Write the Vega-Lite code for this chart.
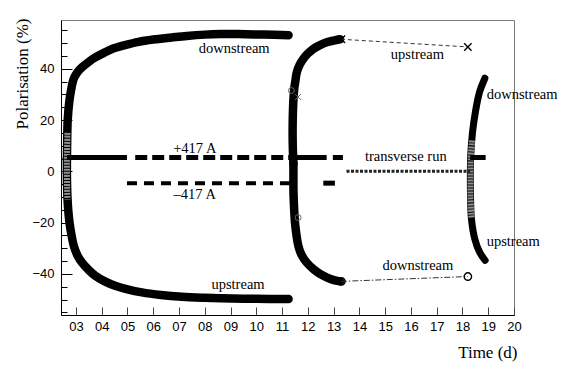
{
  "$schema": "https://vega.github.io/schema/vega-lite/v6.json",
  "width": 453,
  "height": 295,
  "autosize": {"type": "none"},
  "padding": {"left": 61, "top": 20, "right": 54, "bottom": 55},
  "background": "white",
  "config": {
    "view": {"stroke": "#7a7a7a", "strokeWidth": 1},
    "text": {"font": "Liberation Serif", "fontSize": 14.5, "color": "black"}
  },
  "datasets": {
    "curves": [
      {"s": "ds1", "i": 0, "x": 2.65, "y": 5},
      {"s": "ds1", "i": 1, "x": 2.66, "y": 12},
      {"s": "ds1", "i": 2, "x": 2.68, "y": 20},
      {"s": "ds1", "i": 3, "x": 2.74, "y": 27},
      {"s": "ds1", "i": 4, "x": 2.8, "y": 31},
      {"s": "ds1", "i": 5, "x": 2.91, "y": 36},
      {"s": "ds1", "i": 6, "x": 3.05, "y": 38.5},
      {"s": "ds1", "i": 7, "x": 3.23, "y": 40.5},
      {"s": "ds1", "i": 8, "x": 3.5, "y": 42.7},
      {"s": "ds1", "i": 9, "x": 3.75, "y": 44.4},
      {"s": "ds1", "i": 10, "x": 4.05, "y": 46},
      {"s": "ds1", "i": 11, "x": 4.4, "y": 47.7},
      {"s": "ds1", "i": 12, "x": 4.9, "y": 49.2},
      {"s": "ds1", "i": 13, "x": 5.43, "y": 50.5},
      {"s": "ds1", "i": 14, "x": 6.0, "y": 51.4},
      {"s": "ds1", "i": 15, "x": 6.72, "y": 52.2},
      {"s": "ds1", "i": 16, "x": 7.3, "y": 52.8},
      {"s": "ds1", "i": 17, "x": 8.01, "y": 53.3},
      {"s": "ds1", "i": 18, "x": 8.6, "y": 53.5},
      {"s": "ds1", "i": 19, "x": 9.3, "y": 53.5},
      {"s": "ds1", "i": 20, "x": 10.3, "y": 53.3},
      {"s": "ds1", "i": 21, "x": 11.25, "y": 53.1},
      {"s": "us1", "i": 0, "x": 2.65, "y": 5},
      {"s": "us1", "i": 1, "x": 2.65, "y": -3},
      {"s": "us1", "i": 2, "x": 2.67, "y": -10},
      {"s": "us1", "i": 3, "x": 2.7, "y": -15},
      {"s": "us1", "i": 4, "x": 2.75, "y": -20},
      {"s": "us1", "i": 5, "x": 2.83, "y": -25},
      {"s": "us1", "i": 6, "x": 2.93, "y": -29.5},
      {"s": "us1", "i": 7, "x": 3.07, "y": -33},
      {"s": "us1", "i": 8, "x": 3.23, "y": -35.5},
      {"s": "us1", "i": 9, "x": 3.5, "y": -38.5},
      {"s": "us1", "i": 10, "x": 3.75, "y": -40.7},
      {"s": "us1", "i": 11, "x": 4.1, "y": -42.8},
      {"s": "us1", "i": 12, "x": 4.52, "y": -44.6},
      {"s": "us1", "i": 13, "x": 5.0, "y": -46},
      {"s": "us1", "i": 14, "x": 5.56, "y": -47.2},
      {"s": "us1", "i": 15, "x": 6.3, "y": -48.2},
      {"s": "us1", "i": 16, "x": 7.11, "y": -48.9},
      {"s": "us1", "i": 17, "x": 8.0, "y": -49.3},
      {"s": "us1", "i": 18, "x": 8.66, "y": -49.5},
      {"s": "us1", "i": 19, "x": 10.0, "y": -49.7},
      {"s": "us1", "i": 20, "x": 11.25, "y": -49.8},
      {"s": "ds2", "i": 0, "x": 11.44, "y": 3},
      {"s": "ds2", "i": 1, "x": 11.42, "y": 8},
      {"s": "ds2", "i": 2, "x": 11.41, "y": 12.6},
      {"s": "ds2", "i": 3, "x": 11.41, "y": 18},
      {"s": "ds2", "i": 4, "x": 11.42, "y": 23},
      {"s": "ds2", "i": 5, "x": 11.44, "y": 28},
      {"s": "ds2", "i": 6, "x": 11.47, "y": 32},
      {"s": "ds2", "i": 7, "x": 11.52, "y": 35.5},
      {"s": "ds2", "i": 8, "x": 11.57, "y": 38.6},
      {"s": "ds2", "i": 9, "x": 11.68, "y": 41.5},
      {"s": "ds2", "i": 10, "x": 11.82, "y": 43.8},
      {"s": "ds2", "i": 11, "x": 12.0, "y": 45.9},
      {"s": "ds2", "i": 12, "x": 12.21, "y": 47.7},
      {"s": "ds2", "i": 13, "x": 12.45, "y": 49.1},
      {"s": "ds2", "i": 14, "x": 12.73, "y": 50.3},
      {"s": "ds2", "i": 15, "x": 13.0, "y": 51},
      {"s": "ds2", "i": 16, "x": 13.25, "y": 51.5},
      {"s": "us2", "i": 0, "x": 11.44, "y": 3},
      {"s": "us2", "i": 1, "x": 11.44, "y": -3},
      {"s": "us2", "i": 2, "x": 11.44, "y": -6.9},
      {"s": "us2", "i": 3, "x": 11.46, "y": -13},
      {"s": "us2", "i": 4, "x": 11.5, "y": -19.9},
      {"s": "us2", "i": 5, "x": 11.56, "y": -25},
      {"s": "us2", "i": 6, "x": 11.63, "y": -29},
      {"s": "us2", "i": 7, "x": 11.75, "y": -32.5},
      {"s": "us2", "i": 8, "x": 11.95, "y": -35.5},
      {"s": "us2", "i": 9, "x": 12.2, "y": -38},
      {"s": "us2", "i": 10, "x": 12.47, "y": -40},
      {"s": "us2", "i": 11, "x": 12.75, "y": -41.4},
      {"s": "us2", "i": 12, "x": 12.98, "y": -42.3},
      {"s": "us2", "i": 13, "x": 13.25, "y": -42.9}
    ],
    "run3": [
      {"s": "r3", "i": 0, "x": 18.87, "y": 36.3},
      {"s": "r3", "i": 1, "x": 18.66, "y": 30.8},
      {"s": "r3", "i": 2, "x": 18.5, "y": 23},
      {"s": "r3", "i": 3, "x": 18.39, "y": 15.2},
      {"s": "r3", "i": 4, "x": 18.32, "y": 6.1},
      {"s": "r3", "i": 5, "x": 18.31, "y": 2.2},
      {"s": "r3", "i": 6, "x": 18.31, "y": -8.2},
      {"s": "r3", "i": 7, "x": 18.35, "y": -18.6},
      {"s": "r3", "i": 8, "x": 18.48, "y": -26.4},
      {"s": "r3", "i": 9, "x": 18.67, "y": -31.6},
      {"s": "r3", "i": 10, "x": 18.88, "y": -34.7}
    ],
    "grayseg": [
      {"s": "g1", "i": 0, "x": 2.67, "y": 15},
      {"s": "g1", "i": 1, "x": 2.655, "y": 8},
      {"s": "g1", "i": 2, "x": 2.65, "y": 2},
      {"s": "g1", "i": 3, "x": 2.655, "y": -6},
      {"s": "g1", "i": 4, "x": 2.67, "y": -11},
      {"s": "g3", "i": 0, "x": 18.37, "y": 12},
      {"s": "g3", "i": 1, "x": 18.32, "y": 5},
      {"s": "g3", "i": 2, "x": 18.31, "y": -3},
      {"s": "g3", "i": 3, "x": 18.31, "y": -10},
      {"s": "g3", "i": 4, "x": 18.35, "y": -18}
    ],
    "cur": [
      {"s": "p_solid1", "x": 2.65, "y": 5.4},
      {"s": "p_solid1", "x": 4.98, "y": 5.4},
      {"s": "p_dash", "x": 5.3, "y": 5.4},
      {"s": "p_dash", "x": 11.4, "y": 5.4},
      {"s": "p_solid2", "x": 11.45, "y": 5.4},
      {"s": "p_solid2", "x": 12.73, "y": 5.4},
      {"s": "p_seg", "x": 12.97, "y": 5.4},
      {"s": "p_seg", "x": 13.36, "y": 5.4},
      {"s": "p_solid3", "x": 18.3, "y": 5.4},
      {"s": "p_solid3", "x": 18.9, "y": 5.4},
      {"s": "m_dash", "x": 4.98, "y": -4.6},
      {"s": "m_dash", "x": 11.4, "y": -4.6},
      {"s": "m_seg", "x": 12.6, "y": -4.6},
      {"s": "m_seg", "x": 13.05, "y": -4.6}
    ],
    "trans": [
      {"x": 13.5, "y": 0},
      {"x": 18.3, "y": 0}
    ],
    "conn": [
      {"s": "up", "x": 13.28, "y": 51.5},
      {"s": "up", "x": 18.21, "y": 48.5},
      {"s": "dn", "x": 13.28, "y": -42.9},
      {"s": "dn", "x": 18.21, "y": -41}
    ],
    "marks": [
      {"m": "x", "x": 18.21, "y": 48.5},
      {"m": "x", "x": 13.3, "y": 51.5},
      {"m": "o", "x": 18.21, "y": -41},
      {"m": "o", "x": 13.3, "y": -42.9}
    ],
    "stray": [
      {"m": "o", "x": 11.36, "y": 31.5},
      {"m": "x", "x": 11.62, "y": 29},
      {"m": "o", "x": 11.62, "y": -18}
    ],
    "labels": [
      {"t": "downstream", "x": 9.14, "y": 47.7, "a": "c"},
      {"t": "+417 A", "x": 7.61, "y": 8.7, "a": "c"},
      {"t": "–417 A", "x": 7.61, "y": -9.2, "a": "c"},
      {"t": "upstream", "x": 9.29, "y": -44.3, "a": "c"},
      {"t": "upstream", "x": 16.25, "y": 45.3, "a": "c"},
      {"t": "transverse run", "x": 15.8, "y": 5.6, "a": "c"},
      {"t": "downstream", "x": 16.27, "y": -36.9, "a": "c"},
      {"t": "downstream", "x": 18.94, "y": 29.7, "a": "l"},
      {"t": "upstream", "x": 18.94, "y": -27.5, "a": "l"}
    ]
  },
  "encoding": {
    "x": {
      "field": "x",
      "type": "quantitative",
      "scale": {"domain": [2.42, 20], "nice": false, "zero": false},
      "axis": {
        "title": "Time (d)",
        "values": [3, 4, 5, 6, 7, 8, 9, 10, 11, 12, 13, 14, 15, 16, 17, 18, 19, 20],
        "labelExpr": "datum.value < 10 ? '0' + datum.value : '' + datum.value",
        "grid": false,
        "tickSize": -8,
        "labelPadding": 13,
        "labelFlush": false,
        "labelFont": "Liberation Sans",
        "labelFontSize": 13,
        "labelColor": "black",
        "tickColor": "#444",
        "domainColor": "black",
        "titleFont": "Liberation Serif",
        "titleFontSize": 17,
        "titleFontWeight": "normal",
        "titleColor": "black",
        "titleX": 456,
        "titleY": 37,
        "titleAlign": "right",
        "titleBaseline": "middle"
      }
    },
    "y": {
      "field": "y",
      "type": "quantitative",
      "scale": {"domain": [-56, 59], "nice": false, "zero": false},
      "axis": {
        "title": "Polarisation (%)",
        "values": [-55, -50, -45, -40, -35, -30, -25, -20, -15, -10, -5, 0, 5, 10, 15, 20, 25, 30, 35, 40, 45, 50, 55],
        "labelExpr": "datum.value % 20 === 0 ? datum.label : ''",
        "grid": false,
        "tickSize": {"condition": {"test": "datum.value % 20 === 0", "value": -11}, "value": -6},
        "labelPadding": 18,
        "labelFont": "Liberation Sans",
        "labelFontSize": 13,
        "labelColor": "black",
        "tickColor": "black",
        "domainColor": "black",
        "titleFont": "Liberation Serif",
        "titleFontSize": 17,
        "titleFontWeight": "normal",
        "titleColor": "black",
        "titleX": -39,
        "titleY": -2,
        "titleAngle": -90,
        "titleAlign": "right",
        "titleBaseline": "middle"
      }
    }
  },
  "layer": [
    {
      "data": {"name": "curves"},
      "mark": {"type": "line", "color": "black", "strokeWidth": 8.5, "strokeCap": "round", "strokeJoin": "round", "interpolate": "catmull-rom"},
      "encoding": {"detail": {"field": "s"}, "order": {"field": "i", "type": "quantitative"}}
    },
    {
      "data": {"name": "run3"},
      "mark": {"type": "line", "color": "black", "strokeWidth": 7, "strokeCap": "round", "strokeJoin": "round", "interpolate": "catmull-rom"},
      "encoding": {"order": {"field": "i", "type": "quantitative"}}
    },
    {
      "data": {"name": "grayseg"},
      "mark": {"type": "line", "color": "#8f8f8f", "strokeWidth": 6, "strokeCap": "butt", "strokeDash": [2, 1], "interpolate": "catmull-rom"},
      "encoding": {"detail": {"field": "s"}, "order": {"field": "i", "type": "quantitative"}}
    },
    {
      "data": {"name": "cur"},
      "transform": [{"filter": "indexof(['p_solid1','p_solid2','p_seg','p_solid3','m_seg'], datum.s) >= 0"}],
      "mark": {"type": "line", "color": "black", "strokeWidth": 5, "strokeCap": "butt"},
      "encoding": {"detail": {"field": "s"}}
    },
    {
      "data": {"name": "cur"},
      "transform": [{"filter": "datum.s === 'p_dash'"}],
      "mark": {"type": "line", "color": "black", "strokeWidth": 5, "strokeCap": "butt", "strokeDash": [12, 5]},
      "encoding": {}
    },
    {
      "data": {"name": "cur"},
      "transform": [{"filter": "datum.s === 'm_dash'"}],
      "mark": {"type": "line", "color": "black", "strokeWidth": 4, "strokeCap": "butt", "strokeDash": [10, 7]},
      "encoding": {}
    },
    {
      "data": {"name": "trans"},
      "mark": {"type": "line", "color": "#222", "strokeWidth": 3, "strokeCap": "butt", "strokeDash": [3, 1.5]},
      "encoding": {}
    },
    {
      "data": {"name": "conn"},
      "transform": [{"filter": "datum.s === 'up'"}],
      "mark": {"type": "line", "color": "#333", "strokeWidth": 1, "strokeDash": [4, 3]},
      "encoding": {}
    },
    {
      "data": {"name": "conn"},
      "transform": [{"filter": "datum.s === 'dn'"}],
      "mark": {"type": "line", "color": "#333", "strokeWidth": 1, "strokeDash": [6, 2, 1.5, 2]},
      "encoding": {}
    },
    {
      "data": {"name": "marks"},
      "mark": {"type": "point", "filled": false, "color": "black", "strokeWidth": 1.4, "size": 55, "opacity": 1},
      "encoding": {
        "shape": {"field": "m", "type": "nominal", "scale": {"domain": ["x", "o"], "range": ["M-1,-1L1,1M-1,1L1,-1", "circle"]}, "legend": null}
      }
    },
    {
      "data": {"name": "stray"},
      "mark": {"type": "point", "filled": false, "color": "#666", "strokeWidth": 1, "size": 35, "opacity": 1},
      "encoding": {
        "shape": {"field": "m", "type": "nominal", "scale": {"domain": ["x", "o"], "range": ["M-1,-1L1,1M-1,1L1,-1", "circle"]}, "legend": null}
      }
    },
    {
      "data": {"name": "labels"},
      "transform": [{"filter": "datum.a === 'c'"}],
      "mark": {"type": "text", "align": "center", "baseline": "middle"},
      "encoding": {"text": {"field": "t"}}
    },
    {
      "data": {"name": "labels"},
      "transform": [{"filter": "datum.a === 'l'"}],
      "mark": {"type": "text", "align": "left", "baseline": "middle"},
      "encoding": {"text": {"field": "t"}}
    }
  ]
}
